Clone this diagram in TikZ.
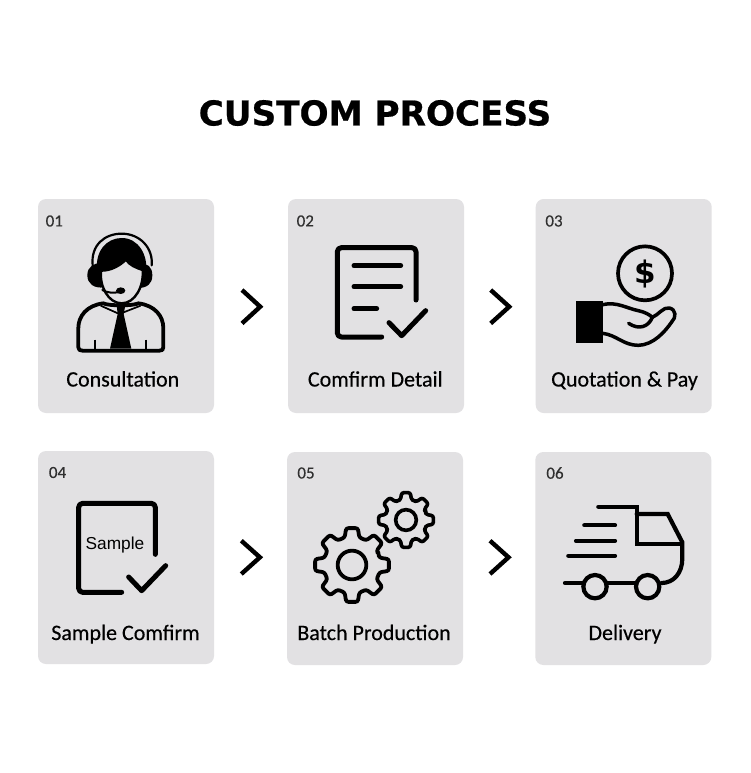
\documentclass[tikz,border=0pt]{standalone}
\usepackage{fontspec}
\setmainfont{Carlito}[FakeBold=0.4]
\newfontfamily\titlefont{DejaVu Sans Bold}[FakeBold=0.6]
\newfontfamily\samplefont{Liberation Sans}
\newfontfamily\dollarfont{DejaVu Sans Bold}
\definecolor{cardgrey}{HTML}{E2E1E3}
\definecolor{numgrey}{HTML}{303030}
\tikzset{
  card/.style={fill=cardgrey,rounded corners=8pt,inner sep=0pt,outer sep=0pt,minimum width=176pt,minimum height=214pt},
  numlabel/.style={inner sep=0pt,text=numgrey,font=\fontsize{17}{19}\selectfont},
  caption/.style={inner sep=0pt,anchor=base,text=black,font=\fontsize{22}{26}\selectfont},
  chevron/.style={draw=black,line width=4.4pt,line cap=butt,line join=miter},
  ink/.style={draw=black,line cap=round,line join=round,line width=5pt},
  zm/.style 2 args={shift={(#1,#2)},x=0.33333pt,y=-0.33333pt},
}
\newcommand{\gearshape}[5]{%
  \begin{scope}[shift={(#1,#2)}]
    \draw[draw=black,line width=#5,rounded corners=2.2pt,line join=round]
      (-22.5:#3*0.76)
      \foreach \a in {0,45,...,315} {
        -- ({\a-15}:#3*0.76) -- ({\a-9}:#3) -- ({\a+9}:#3) -- ({\a+15}:#3*0.76) -- ({\a+22.5}:#3*0.76)
      } -- cycle;
    \draw[draw=black,line width=#5] (0,0) circle[radius=#4];
  \end{scope}}
\begin{document}
\begin{tikzpicture}[x=1pt,y=-1pt]
\useasboundingbox (0,0) rectangle (750,773);
\fill[white] (0,0) rectangle (750,773);

\node[inner sep=0pt,font=\titlefont\fontsize{34.2}{40}\selectfont] (title) at (375,113) {CUSTOM PROCESS};

% cards
\node[card] (c1) at (126,306) {};
\node[card] (c2) at (376,306) {};
\node[card] (c3) at (623.7,306) {};
\node[card,minimum height=213pt] (c4) at (126,557.5) {};
\node[card,minimum height=213pt] (c5) at (375,558.5) {};
\node[card,minimum height=213pt] (c6) at (623.3,558.5) {};

% numbers
\node[numlabel] (n1) at (54.3,221) {01};
\node[numlabel] (n2) at (305.3,221) {02};
\node[numlabel] (n3) at (554,221) {03};
\node[numlabel] (n4) at (57.5,472.5) {04};
\node[numlabel] (n5) at (306,473) {05};
\node[numlabel] (n6) at (555,473) {06};

% captions
\node[caption] (t1) at (122.8,386.5) {Consultation};
\node[caption] (t2) at (375.3,386.5) {Comfirm Detail};
\node[caption] (t3) at (624.5,386.5) {Quotation \& Pay};
\node[caption] (t4) at (125.5,640) {Sample Comfirm};
\node[caption] (t5) at (374,640) {Batch Production};
\node[caption] (t6) at (625,640) {Delivery};

% chevrons
\draw[chevron] (242,290) -- (260.2,306.7) -- (242,323.4);
\draw[chevron] (490.7,290) -- (509.2,306.7) -- (490.7,323.4);
\draw[chevron] (241.3,540.7) -- (259.9,557.3) -- (241.3,574);
\draw[chevron] (490,540.7) -- (508.5,557.3) -- (490,574);

% icon 1: agent
\begin{scope}[zm={70}{228}]
  \draw[black,line width=2.2pt,line cap=round] (68,112) .. controls (62,50) and (105,17) .. (155,17) .. controls (210,17) and (250,60) .. (245,112);
  \fill[black] (82,135) .. controls (72,70) and (110,30) .. (155,30) .. controls (205,30) and (235,80) .. (228,135) -- cycle;
  \fill[black] (52,142) .. controls (52,116) and (72,104) .. (94,106) -- (102,178) .. controls (72,182) and (52,167) .. (52,142) -- cycle;
  \fill[black] (247,142) .. controls (247,116) and (232,106) .. (210,106) -- (203,180) .. controls (232,180) and (247,167) .. (247,142) -- cycle;
  \draw[black,line width=2.4pt,fill=cardgrey] (93,128) .. controls (125,128) and (150,112) .. (168,95) .. controls (178,112) and (200,120) .. (218,126)
     .. controls (222,175) and (195,226) .. (155,226) .. controls (115,226) and (88,175) .. (93,128) -- cycle;
  \draw[black,line width=2pt,line cap=round] (97,186) .. controls (110,194) and (130,196) .. (148,192);
  \fill[black] (152,188) ellipse[x radius=14,y radius=10];
  % body
  \draw[black,line width=3.8pt,line join=round,fill=cardgrey] (100,226) .. controls (50,232) and (25,265) .. (25,300) -- (25,358) .. controls (25,366) and (30,368) .. (38,368) -- (268,368) .. controls (276,368) and (280,366) .. (280,358) -- (280,300) .. controls (280,265) and (255,232) .. (205,226) .. controls (190,234) and (115,234) .. (100,226) -- cycle;
  \draw[black,line width=1.7pt] (92,233) -- (148,258) -- (212,233);
  \fill[black] (140,232) -- (166,232) -- (161,258) -- (184,362) -- (120,362) -- (143,258) -- cycle;
  \draw[black,line width=2.1pt] (75,335) -- (75,366);
  \draw[black,line width=2.1pt] (229,335) -- (229,366);
\end{scope}

% icon 2: document
\begin{scope}[zm={280}{190}]
  \draw[ink,rounded corners=4pt] (408,330) -- (408,173) -- (172,173) -- (172,441) -- (305,441);
  \draw[ink] (222,227) -- (362,227);
  \draw[ink] (222,290) -- (362,290);
  \draw[ink] (222,356) -- (290,356);
  \draw[ink] (327,398) -- (365,437) -- (437,362);
\end{scope}

% icon 3: hand and coin
\begin{scope}[zm={570}{240}]
  \draw[black,line width=3.7pt] (225,100) circle[radius=81];
  \node[inner sep=0pt,font=\dollarfont\fontsize{31}{34}\selectfont] (dollar) at (225,101) {\$};
  \fill[black] (18,182) rectangle (98,308);
  \draw[black,line width=3.5pt,line cap=round,line join=round] (98,194) .. controls (140,184) and (170,205) .. (205,212) .. controls (225,216) and (240,225) .. (247,232)
     .. controls (235,262) and (205,270) .. (176,250);
  \draw[black,line width=3.5pt,line cap=round,line join=round] (247,232) .. controls (265,225) and (280,200) .. (298,204) .. controls (318,208) and (320,232) .. (305,246)
     .. controls (285,275) and (250,315) .. (205,316) .. controls (160,316) and (140,285) .. (98,280);
\end{scope}

% icon 4: sample document
\begin{scope}[zm={30}{445}]
  \draw[ink,rounded corners=4pt] (376,328) -- (376,175) -- (146,175) -- (146,442) -- (275,442);
  \draw[ink] (296,396) -- (335,437) -- (407,362);
  \node[inner sep=0pt,text=black,font=\samplefont\fontsize{17.3}{20}\selectfont] (sample) at (255,299) {Sample};
\end{scope}

% icon 5: gears
\begin{scope}[zm={280}{445}]
  \gearshape{216}{360}{112}{43}{3.8pt}
  \gearshape{378}{225}{83}{31}{3.6pt}
\end{scope}

% icon 6: truck
\begin{scope}[zm={525}{445}]
  \begin{scope}[black,line width=4.2pt,line cap=round,line join=miter]
    \draw (220,185) -- (335,185) -- (335,297) -- (470,297);
    \draw (335,207) -- (428,207) -- (472,292) -- (472,340) .. controls (472,385) and (445,414) .. (410,414);
    \draw (178,241) -- (270,241);
    \draw (153,287) -- (270,287);
    \draw (130,332) -- (270,332);
    \draw (120,414) -- (175,414);
    \draw (245,414) -- (330,414);
    \draw (210,425) circle[radius=35];
    \draw (368,425) circle[radius=35];
  \end{scope}
\end{scope}
\end{tikzpicture}
\end{document}
